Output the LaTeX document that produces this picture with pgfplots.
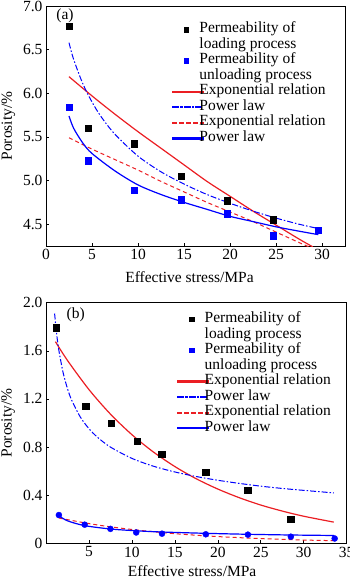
\documentclass[border=0pt]{standalone}
\usepackage{fontspec}
\setmainfont{Liberation Serif}
\usepackage{pgfplots}
\pgfplotsset{compat=1.18}
\definecolor{myred}{RGB}{235,30,35}
\definecolor{myblue}{RGB}{0,0,255}
\pgfplotsset{
  legredsolid/.style={legend image code/.code={\fill[myred] (0bp,-0.7bp) rectangle (31bp,0.7bp);}},
  legbluesolid/.style={legend image code/.code={\fill[myblue] (0bp,-0.7bp) rectangle (31bp,0.7bp);}},
  legbluedashdot/.style={legend image code/.code={%
    \fill[myblue] (0bp,-0.55bp) rectangle (6bp,0.55bp);
    \fill[myblue] (8bp,-0.55bp) rectangle (9.5bp,0.55bp);
    \fill[myblue] (11.5bp,-0.55bp) rectangle (17.5bp,0.55bp);
    \fill[myblue] (19.5bp,-0.55bp) rectangle (21bp,0.55bp);
    \fill[myblue] (23bp,-0.55bp) rectangle (29bp,0.55bp);
    \path[draw=none,fill=none] (0bp,0bp) -- (31bp,0bp);}},
  legreddash/.style={legend image code/.code={%
    \fill[myred] (0bp,-0.55bp) rectangle (4bp,0.55bp);
    \fill[myred] (7bp,-0.55bp) rectangle (11bp,0.55bp);
    \fill[myred] (14bp,-0.55bp) rectangle (18bp,0.55bp);
    \fill[myred] (21bp,-0.55bp) rectangle (25bp,0.55bp);
    \fill[myred] (28bp,-0.55bp) rectangle (31bp,0.55bp);}},
  legsq/.style={legend image code/.code={\fill[##1] (11.7bp,-2.3bp) rectangle (16.3bp,2.3bp);\path[draw=none,fill=none] (0bp,0bp) -- (31bp,0bp);}},
  common/.style={
    scale only axis,
    font=\fontsize{15.5bp}{17bp}\selectfont,
    /pgf/number format/assume math mode=true,
    tick align=inside, xtick pos=bottom, ytick pos=left,
    major tick length=3bp,
    axis line style={line width=0.6bp},
    every tick/.style={black, line width=0.6bp},
    legend cell align=left,
    legend style={draw=none, fill=none, inner sep=0pt, row sep=0pt,
      font=\fontsize{15.5bp}{17bp}\selectfont,
      nodes={inner sep=0pt, text height=11bp, text depth=4.5bp},
      /tikz/every odd column/.append style={column sep=-4bp},
      anchor=north west},
    ylabel={Porosity/\%},
    xlabel={Effective stress/MPa},
    ylabel style={anchor=center},
    xlabel style={anchor=base},
  },
  dashdot/.style={dash pattern=on 6bp off 2bp on 1.5bp off 2bp},
  reddash/.style={dash pattern=on 4bp off 3bp},
}
\newcommand{\mylegend}{%
  \addlegendimage{black, legsq}
  \addlegendentry{Permeability of}
  \addlegendimage{empty legend}
  \addlegendentry{loading process}
  \addlegendimage{myblue, legsq}
  \addlegendentry{Permeability of}
  \addlegendimage{empty legend}
  \addlegendentry{unloading process}
  \addlegendimage{legredsolid}
  \addlegendentry{Exponential relation}
  \addlegendimage{legbluedashdot}
  \addlegendentry{Power law}
  \addlegendimage{legreddash}
  \addlegendentry{Exponential relation}
  \addlegendimage{legbluesolid}
  \addlegendentry{Power law}
}
\begin{document}
\begin{tikzpicture}
\path[use as bounding box] (0,0) rectangle (350bp,-579bp);
% ---------------- (a)
\begin{axis}[common, at={(46bp,-246bp)}, anchor=south west,
  width=299bp, height=240bp,
  xmin=0, xmax=32.5, ymin=4.25, ymax=7.0,
  xtick={0,5,10,15,20,25,30},
  ytick={4.5,5,5.5,6,6.5,7},
  yticklabels={4.5,5.0,5.5,6.0,6.5,7.0},
  ylabel style={at={(axis description cs:-0.126,0.5)}},
  xlabel style={at={(axis description cs:0.48,-0.154)}},
  legend style={at={(0.421,0.935)}},
]
\mylegend
\addplot[forget plot, only marks, mark=square*, mark size=3.3bp, black]
  coordinates {(2.5,6.77) (4.6,5.60) (9.6,5.42) (14.7,5.05) (19.7,4.77) (24.7,4.55)};
\addplot[forget plot, only marks, mark=square*, mark size=3.3bp, myblue]
  coordinates {(2.5,5.84) (4.6,5.23) (9.6,4.89) (14.7,4.78) (19.7,4.62) (24.7,4.37) (29.6,4.43)};
\addplot[forget plot, myred, line width=1.2bp, smooth]
  coordinates {(2.5,6.19) (5,5.97) (7.5,5.76) (10,5.56) (12.5,5.37) (15,5.18) (17.5,4.99) (20,4.82) (22.5,4.65) (25,4.49) (27.5,4.33) (29,4.24)};
\addplot[forget plot, myblue, line width=1bp, dashdot, smooth]
  coordinates {(2.5,6.58) (3,6.39) (4,6.11) (5,5.90) (6,5.73) (7.5,5.53) (10,5.28) (12.5,5.10) (15,4.96) (17.5,4.84) (20,4.74) (22.5,4.65) (25,4.57) (27.5,4.50) (29.6,4.45)};
\addplot[forget plot, myred, line width=1bp, reddash, smooth]
  coordinates {(2.5,5.49) (5,5.36) (7.5,5.24) (10,5.12) (12.5,4.99) (15,4.87) (17.5,4.75) (20,4.64) (22.5,4.53) (25,4.41) (27.5,4.29) (28.8,4.23)};
\addplot[forget plot, myblue, line width=1.2bp, smooth]
  coordinates {(2.5,5.74) (3,5.60) (4,5.43) (5,5.31) (7.5,5.11) (10,4.95) (12.5,4.84) (15,4.75) (17.5,4.67) (20,4.59) (22.5,4.53) (25,4.47) (27.5,4.42) (29.6,4.38)};
\node[anchor=west] at (rel axis cs:0.023,0.958) {(a)};
\end{axis}
% ---------------- (b)
\begin{axis}[common, at={(46bp,-543.3bp)}, anchor=south west,
  width=300.7bp, height=240.6bp,
  xmin=0, xmax=35, ymin=0, ymax=2.0,
  xtick={5,10,15,20,25,30,35},
  ytick={0,0.4,0.8,1.2,1.6,2.0},
  yticklabels={0,0.4,0.8,1.2,1.6,2.0},
  ylabel style={at={(axis description cs:-0.126,0.5)}},
  xlabel style={at={(axis description cs:0.486,-0.14)}},
  legend style={at={(0.436,0.964)}},
]
\mylegend
\addplot[forget plot, only marks, mark=square*, mark size=3.3bp, black]
  coordinates {(1.2,1.79) (4.6,1.14) (7.6,1.00) (10.6,0.85) (13.5,0.74) (18.6,0.59) (23.5,0.44) (28.5,0.20)};
\addplot[forget plot, only marks, mark=*, mark size=3bp, myblue]
  coordinates {(1.5,0.235) (4.5,0.155) (7.5,0.12) (10.5,0.09) (13.5,0.08) (18.6,0.075) (23.5,0.072) (28.5,0.055) (33.6,0.04)};
\addplot[forget plot, myred, line width=1.2bp, smooth]
  coordinates {(1.1,1.676) (2.5,1.52) (5,1.278) (7.5,1.074) (10,0.903) (12.5,0.759) (15,0.638) (17.5,0.536) (20,0.451) (22.5,0.379) (25,0.318) (27.5,0.268) (30,0.225) (33.5,0.176)};
\addplot[forget plot, myblue, line width=1bp, dashdot, smooth]
  coordinates {(1.0,1.91) (1.25,1.734) (1.5,1.603) (2,1.416) (2.5,1.286) (3,1.188) (4,1.049) (5,0.953) (6,0.881) (7.5,0.800) (10,0.706) (12.5,0.641) (15,0.593) (17.5,0.555) (20,0.524) (22.5,0.498) (25,0.475) (27.5,0.456) (30,0.440) (33.5,0.419)};
\addplot[forget plot, myred, line width=1bp, reddash, smooth]
  coordinates {(1.5,0.21) (5,0.164) (7.5,0.137) (10,0.115) (12.5,0.096) (15,0.080) (17.5,0.067) (20,0.056) (22.5,0.047) (25,0.039) (27.5,0.033) (30,0.027) (33.5,0.022)};
\addplot[forget plot, myblue, line width=1.2bp, smooth]
  coordinates {(1.5,0.230) (2.5,0.187) (4.5,0.147) (7.5,0.119) (10.5,0.104) (13.5,0.094) (18.6,0.083) (23.5,0.075) (28.5,0.069) (33.5,0.065)};
\node[anchor=west] at (rel axis cs:0.057,0.949) {(b)};
\end{axis}
\end{tikzpicture}
\end{document}
